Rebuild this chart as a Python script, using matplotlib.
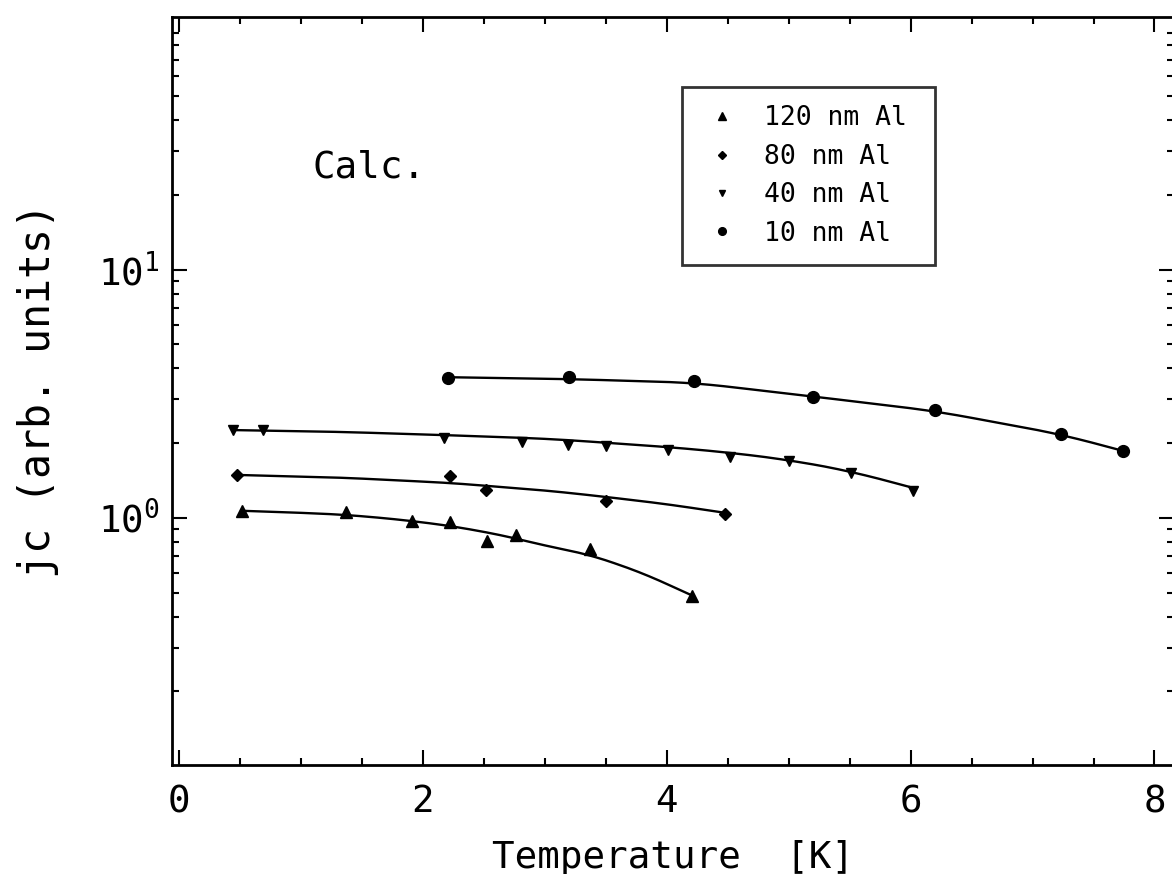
import numpy as np
import matplotlib
matplotlib.use("Agg")
import matplotlib.pyplot as plt
from matplotlib.ticker import FixedLocator, FixedFormatter, NullFormatter, MultipleLocator
from matplotlib.lines import Line2D

plt.rcParams['font.family'] = ['DejaVu Sans Mono']
plt.rcParams['mathtext.fontset'] = 'custom'
plt.rcParams['mathtext.rm'] = 'DejaVu Sans Mono'
plt.rcParams['mathtext.it'] = 'DejaVu Sans Mono'

# ---- data ----
labels = ["120 nm Al", "80 nm Al", "40 nm Al", "10 nm Al"]

t120 = [0.52, 1.37, 1.91, 2.22, 2.53, 2.76, 3.37, 4.21]
j120 = [1.067, 1.057, 0.973, 0.964, 0.808, 0.855, 0.751, 0.486]
fit_t120 = [0.52, 0.95, 1.37, 1.80, 2.22, 2.63, 3.04, 3.37, 3.80, 4.21]
fit_j120 = [1.067, 1.050, 1.028, 0.985, 0.929, 0.855, 0.765, 0.710, 0.600, 0.486]

t80 = [0.48, 2.22, 2.52, 3.50, 4.48]
j80 = [1.488, 1.475, 1.295, 1.170, 1.038]
fit_t80 = [0.48, 1.35, 2.22, 3.04, 3.50, 4.00, 4.48]
fit_j80 = [1.488, 1.450, 1.382, 1.284, 1.214, 1.135, 1.047]

t40 = [0.44, 0.69, 2.17, 2.81, 3.19, 3.50, 4.01, 4.52, 5.00, 5.51, 6.02]
j40 = [2.256, 2.256, 2.096, 2.020, 1.965, 1.946, 1.876, 1.758, 1.694, 1.516, 1.284]
fit_t40 = [0.44, 1.30, 2.17, 3.04, 4.01, 4.52, 5.00, 5.51, 6.02]
fit_j40 = [2.256, 2.220, 2.154, 2.080, 1.928, 1.830, 1.710, 1.540, 1.320]

t10 = [2.21, 3.20, 4.22, 5.20, 6.20, 7.23, 7.74]
j10 = [3.65, 3.68, 3.55, 3.06, 2.71, 2.17, 1.86]
fit_t10 = [2.26, 3.20, 4.22, 5.20, 6.20, 7.23, 7.76]
fit_j10 = [3.68, 3.62, 3.50, 3.08, 2.69, 2.17, 1.85]

# ---- figure ----
W, H = 1172, 874
fig = plt.figure(figsize=(W / 100, H / 100), dpi=100)
ax = fig.add_axes([172 / W, 109 / H, (1174 - 172) / W, (765 - 17) / H])

series = [
    (t120, j120, fit_t120, fit_j120, '^', 8.0),
    (t80, j80, fit_t80, fit_j80, 'D', 6.5),
    (t40, j40, fit_t40, fit_j40, 'v', 7.5),
    (t10, j10, fit_t10, fit_j10, 'o', 8.5),
]

handles = []
for (tx, jy, ft, fj, mk, ms), lab in zip(series, labels):
    # smooth curve through the read-off fit line knots (interpolated in log space)
    tt = np.linspace(ft[0], ft[-1], 300)
    yy = 10 ** np.interp(tt, ft, np.log10(fj))
    k = 15
    pad = np.pad(np.log10(yy), k, mode='reflect', reflect_type='odd')
    smooth = np.convolve(pad, np.ones(2 * k + 1) / (2 * k + 1), mode='same')[k:-k]
    ax.plot(tt, 10 ** smooth, color='black', lw=1.7, zorder=2)
    ax.plot(tx, jy, linestyle='none', marker=mk, ms=ms, color='black', zorder=3)
    handles.append(Line2D([], [], linestyle='none', marker=mk, ms=ms * 0.65, color='black'))

ax.set_yscale('log')
ax.set_xlim(-0.057, 8.16)
ax.set_ylim(0.101, 104)

ax.xaxis.set_major_locator(MultipleLocator(2))
ax.xaxis.set_minor_locator(MultipleLocator(0.5))
ax.yaxis.set_major_locator(FixedLocator([1, 10]))
ax.yaxis.set_major_formatter(FixedFormatter([r'$\mathrm{10^{0}}$', r'$\mathrm{10^{1}}$']))
minors = [m * 10.0 ** e for e in (-1, 0, 1) for m in range(2, 10)]
ax.yaxis.set_minor_locator(FixedLocator(minors))
ax.yaxis.set_minor_formatter(NullFormatter())

ax.tick_params(which='both', direction='in', top=True, right=True, colors='black', width=1.5)
ax.tick_params(which='major', length=11, labelsize=27)
ax.tick_params(which='minor', length=5)
ax.tick_params(axis='x', which='major', pad=14)
ax.tick_params(axis='y', which='major', pad=9)

for s in ax.spines.values():
    s.set_linewidth(2.0)

ax.set_xlabel('Temperature  [K]', fontsize=27, labelpad=14)
ax.set_ylabel('jc (arb. units)', fontsize=30, labelpad=28)

ax.text(0.14, 0.785, 'Calc.', transform=ax.transAxes, fontsize=27, va='baseline', ha='left')

leg = ax.legend(handles, labels, loc='upper left',
                bbox_to_anchor=(682 / W, 1 - 269 / H, 253 / W, 182 / H),
                bbox_transform=fig.transFigure, mode='expand',
                fontsize=19, frameon=True, fancybox=False, borderaxespad=0,
                handlelength=1.6, handletextpad=0.8, labelspacing=0.47, borderpad=0.7)
leg.get_frame().set_edgecolor('black')
leg.get_frame().set_linewidth(2.0)

fig.savefig('out.png', dpi=100)
